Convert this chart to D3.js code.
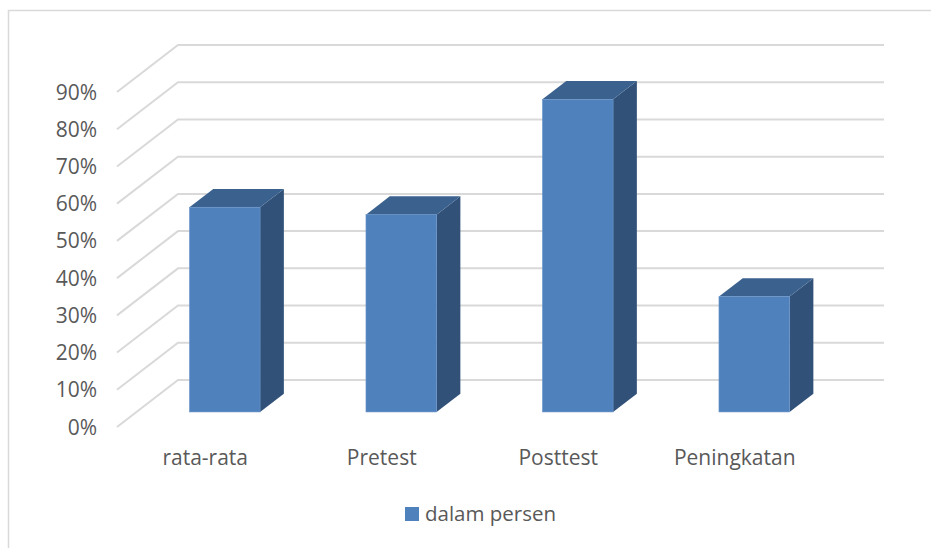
<!DOCTYPE html>
<html>
<head>
<meta charset="UTF-8">
<title>dalam persen</title>
<script src="https://d3js.org/d3.v7.min.js"></script>
<style>
  body { margin: 0; background: #fff; }
  text { font-family: "Open Sans", sans-serif; fill: #595959; }
</style>
</head>
<body>
<div id="chart"></div>
<script>
// data
const categories = ["rata-rata", "Pretest", "Posttest", "Peningkatan"];
const values = [0.55, 0.53, 0.84, 0.31];
const yTicks = [0, 0.1, 0.2, 0.3, 0.4, 0.5, 0.6, 0.7, 0.8, 0.9];
const seriesName = "dalam persen";

const W = 931, H = 548;
const depthX = 61, depthY = 47;      // floor depth offset (front -> back wall)
const barFront = 0.32, barBack = 0.71; // bar position within depth

const svg = d3.select("#chart").append("svg")
  .attr("width", W).attr("height", H);

// chart frame (cropped at right and bottom)
svg.append("path")
  .attr("d", "M8.5," + H + "V10.5H" + W)
  .attr("fill", "none").attr("stroke", "#d9d9d9").attr("stroke-width", 1.5);

const x = d3.scaleBand()
  .domain(categories)
  .range([117, 823])
  .paddingInner(0.6)
  .paddingOuter(0.3);

const y = d3.scaleLinear()
  .domain([0, 0.9])
  .range([427, 92]);

// projection: point at depth d (0 front, 1 back)
const px = (xv, d) => xv + depthX * d;
const py = (yv, d) => yv - depthY * d;

// gridlines: diagonal on side wall + horizontal on back wall
const grid = svg.append("g");
yTicks.forEach(t => {
  grid.append("path")
    .attr("d", "M" + px(117, 0) + "," + y(t) + "L" + px(117, 1) + "," + py(y(t), 1) +
      "H" + px(823, 1))
    .attr("fill", "none")
    .attr("stroke", "#d9d9d9")
    .attr("stroke-width", 2);
});

// y labels
svg.append("g").selectAll("text")
  .data(yTicks).join("text")
  .attr("x", 97)
  .attr("y", d => y(d))
  .attr("dy", "0.36em")
  .attr("text-anchor", "end")
  .attr("font-size", 21)
  .text(d => d3.format(".0%")(d));

// bars
const bars = svg.append("g").selectAll("g")
  .data(categories.map((c, i) => ({ c, v: values[i] })))
  .join("g");

bars.each(function(d) {
  const g = d3.select(this);
  const x0 = px(x(d.c), barFront), x1 = px(x(d.c) + x.bandwidth(), barFront);
  const yb = py(y(0), barFront), yt = py(y(d.v), barFront);
  const ddx = depthX * (barBack - barFront), ddy = depthY * (barBack - barFront);
  // side
  g.append("path")
    .attr("d", `M${x1},${yt}L${x1 + ddx},${yt - ddy}L${x1 + ddx},${yb - ddy}L${x1},${yb}Z`)
    .attr("fill", "#315179");
  // top
  g.append("path")
    .attr("d", `M${x0},${yt}L${x0 + ddx},${yt - ddy}L${x1 + ddx},${yt - ddy}L${x1},${yt}Z`)
    .attr("fill", "#3b628f");
  // front
  g.append("rect")
    .attr("x", x0).attr("y", yt)
    .attr("width", x1 - x0).attr("height", yb - yt)
    .attr("fill", "#4f81bd")
    .attr("stroke", "#6b95c8").attr("stroke-width", 0.6);
});

// category labels
svg.append("g").selectAll("text")
  .data(categories).join("text")
  .attr("x", d => x(d) + x.bandwidth() / 2)
  .attr("y", 465)
  .attr("text-anchor", "middle")
  .attr("font-size", 21)
  .text(d => d);

// legend
const lg = svg.append("g");
lg.append("rect")
  .attr("x", 405).attr("y", 507)
  .attr("width", 14).attr("height", 14)
  .attr("fill", "#4f81bd");
lg.append("text")
  .attr("x", 425).attr("y", 521)
  .attr("font-size", 20.5)
  .text(seriesName);
</script>
</body>
</html>
